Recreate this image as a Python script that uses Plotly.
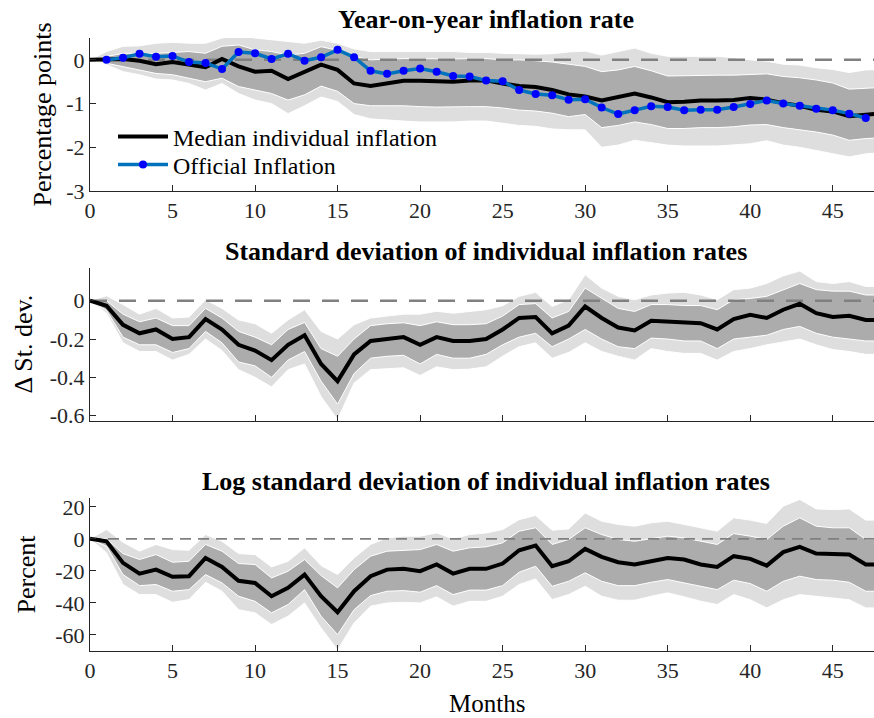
import plotly.graph_objects as go

# ---------------- data ----------------
months = list(range(49))
official_months = list(range(1, 48))

top_med = [0, 0.02, 0.02, -0.02, -0.1, -0.05, -0.1, -0.17, 0.02, -0.15, -0.27, -0.25, -0.44, -0.27, -0.11, -0.23,
           -0.54, -0.6, -0.54, -0.48, -0.48, -0.5, -0.5, -0.47, -0.47, -0.54, -0.6, -0.62, -0.69, -0.79, -0.84, -0.93,
           -0.84, -0.77, -0.86, -0.97, -0.96, -0.93, -0.93, -0.92, -0.87, -0.91, -0.99, -1.05, -1.14, -1.18, -1.29,
           -1.26, -1.22]
top_hi68 = [0, 0.08, 0.15, 0.15, 0.15, 0.17, 0.19, 0.15, 0.31, 0.34, 0.23, 0.19, 0.11, 0.15, 0.3, 0.22, 0.08, 0.0,
            0.02, 0.03, 0.03, 0.02, 0.02, 0.03, 0.03, 0.0, 0.0, -0.02, -0.05, -0.1, -0.15, -0.27, -0.23, -0.15, -0.25,
            -0.37, -0.36, -0.35, -0.35, -0.35, -0.34, -0.32, -0.38, -0.41, -0.46, -0.53, -0.67, -0.65, -0.63]
top_lo68 = [0, -0.08, -0.15, -0.23, -0.31, -0.34, -0.42, -0.5, -0.42, -0.61, -0.69, -0.77, -0.92, -0.8, -0.6, -0.72,
            -1.0, -1.05, -1.05, -1.05, -1.07, -1.08, -1.08, -1.07, -1.07, -1.1, -1.15, -1.17, -1.22, -1.3, -1.25,
            -1.55, -1.5, -1.42, -1.48, -1.57, -1.57, -1.55, -1.55, -1.53, -1.49, -1.48, -1.55, -1.6, -1.65, -1.72,
            -1.84, -1.8, -1.78]
top_hi90 = [0, 0.19, 0.31, 0.32, 0.38, 0.4, 0.38, 0.38, 0.5, 0.55, 0.5, 0.46, 0.42, 0.38, 0.45, 0.38, 0.25, 0.19,
            0.19, 0.19, 0.19, 0.19, 0.19, 0.17, 0.17, 0.15, 0.14, 0.13, 0.14, 0.18, 0.2, 0.11, 0.19, 0.27, 0.15, 0.08,
            0.08, 0.08, 0.08, 0.05, 0.0, -0.03, -0.1, -0.12, -0.18, -0.22, -0.29, -0.23, -0.22]
top_lo90 = [0, -0.11, -0.27, -0.34, -0.44, -0.46, -0.54, -0.69, -0.54, -0.77, -0.92, -1.0, -1.23, -1.05, -0.85,
            -0.95, -1.25, -1.35, -1.38, -1.4, -1.42, -1.42, -1.42, -1.4, -1.4, -1.45, -1.5, -1.52, -1.58, -1.6, -1.6,
            -2.0, -1.95, -1.84, -1.9, -1.95, -1.97, -1.97, -1.97, -1.95, -1.92, -1.85, -1.95, -2.0, -2.08, -2.15,
            -2.22, -2.15, -2.12]
official = [0.0, 0.05, 0.14, 0.07, 0.09, -0.05, -0.07, -0.21, 0.18, 0.15, 0.02, 0.14, -0.02, 0.06, 0.23, 0.06,
            -0.25, -0.32, -0.25, -0.2, -0.27, -0.37, -0.38, -0.47, -0.49, -0.69, -0.78, -0.81, -0.91, -0.9, -1.09,
            -1.24, -1.15, -1.06, -1.08, -1.15, -1.14, -1.14, -1.08, -1.01, -0.93, -1.0, -1.05, -1.12, -1.15, -1.23,
            -1.33]

mid_med = [0, -0.026, -0.126, -0.17, -0.15, -0.2, -0.19, -0.096, -0.15, -0.23, -0.26, -0.31, -0.23, -0.18, -0.33,
           -0.42, -0.28, -0.21, -0.2, -0.19, -0.23, -0.19, -0.21, -0.21, -0.2, -0.15, -0.09, -0.085, -0.17, -0.13,
           -0.03, -0.09, -0.14, -0.155, -0.105, -0.108, -0.113, -0.117, -0.15, -0.096, -0.073, -0.09, -0.047,
           -0.016, -0.065, -0.085, -0.079, -0.1, -0.1]
mid_hi68 = [0, 0.0, -0.07, -0.11, -0.09, -0.13, -0.13, -0.04, -0.09, -0.16, -0.19, -0.23, -0.15, -0.113, -0.25,
            -0.29, -0.2, -0.13, -0.12, -0.115, -0.13, -0.11, -0.125, -0.125, -0.12, -0.08, -0.02, -0.015, -0.09,
            -0.056, 0.066, 0.014, -0.04, -0.056, -0.02, -0.02, -0.025, -0.025, -0.047, 0.005, 0.012, 0.023, 0.058,
            0.09, 0.058, 0.05, 0.05, 0.03, 0.03]
mid_lo68 = [0, -0.05, -0.19, -0.23, -0.23, -0.27, -0.25, -0.16, -0.22, -0.32, -0.34, -0.4, -0.31, -0.265, -0.42,
            -0.54, -0.38, -0.3, -0.29, -0.285, -0.33, -0.28, -0.3, -0.3, -0.28, -0.23, -0.19, -0.17, -0.24, -0.2,
            -0.15, -0.2, -0.24, -0.25, -0.195, -0.2, -0.21, -0.21, -0.25, -0.2, -0.19, -0.18, -0.15, -0.134, -0.17,
            -0.19, -0.2, -0.21, -0.21]
mid_hi90 = [0, 0.026, -0.02, -0.07, -0.04, -0.09, -0.085, 0.005, -0.04, -0.1, -0.12, -0.17, -0.1, -0.047, -0.16,
            -0.2, -0.125, -0.09, -0.08, -0.07, -0.07, -0.055, -0.065, -0.055, -0.047, -0.026, 0.023, 0.044, -0.03,
            0.005, 0.136, 0.066, 0.023, 0.005, 0.03, 0.04, 0.044, 0.03, 0.005, 0.058, 0.066, 0.09, 0.13, 0.155, 0.1,
            0.09, 0.1, 0.075, 0.075]
mid_lo90 = [0, -0.065, -0.22, -0.265, -0.265, -0.31, -0.28, -0.2, -0.26, -0.36, -0.4, -0.45, -0.36, -0.33, -0.5,
            -0.62, -0.43, -0.36, -0.355, -0.35, -0.39, -0.345, -0.36, -0.357, -0.345, -0.29, -0.24, -0.22, -0.3,
            -0.27, -0.22, -0.265, -0.29, -0.31, -0.25, -0.265, -0.275, -0.275, -0.31, -0.265, -0.25, -0.23, -0.215,
            -0.2, -0.23, -0.255, -0.265, -0.28, -0.28]

bot_med = [0, -1.5, -15, -21.7, -19.2, -23.7, -23.3, -11.9, -17.5, -26.2, -27.5, -35.8, -30.6, -22.3, -35.8, -45.8,
           -32.7, -23.3, -19.2, -18.7, -20.2, -16, -21.7, -18.7, -18.7, -15.4, -7.1, -4.2, -17.1, -14, -6.25, -11.2,
           -14.6, -16, -14, -11.9, -12.9, -16, -17.5, -10.8, -12.5, -16.7, -8.3, -5, -9.2, -9.8, -9.8, -16, -16]
bot_hi68 = [0, 0, -9.2, -12.9, -9.8, -14.6, -14, -3.5, -7.7, -15.4, -16, -24.4, -20.2, -12.9, -22.9, -30.6, -19.2,
            -10.8, -7.7, -7.1, -6.7, -3.5, -7.7, -5.6, -5, -2.5, 4.8, 6.9, -3.5, -0.4, 6.9, 2.7, -0.4, -1.5, 0, 1.7,
            0.6, -1.5, -3.5, 3.3, 1.7, -0.4, 7.9, 13.1, 7.9, 6.9, 6.9, -0.4, -0.4]
bot_lo68 = [0, -4.6, -22.3, -29.2, -28.5, -32.7, -31.7, -22.3, -27.5, -35.8, -39, -46.2, -41, -31.7, -48.3, -59.8,
            -44.2, -35.4, -32.7, -32.3, -33.3, -29.2, -34.8, -32, -32, -29.2, -20.8, -17.1, -29.6, -26.5, -21.2,
            -26.5, -29.2, -29.2, -27.1, -25.4, -27.1, -29.6, -31.7, -25.8, -27.9, -32.7, -26.5, -23.3, -25.4, -25.8,
            -27.1, -32.7, -32.7]
bot_hi90 = [0, 5.8, -2.1, -7.7, -3.5, -6.7, -7.1, 2.7, -1.5, -9.2, -9.8, -17.5, -14, -5.6, -16.7, -22.3, -11.9,
            -3.5, 0.6, 1.7, 1.7, 3.7, 0, 2.7, 3.7, 5.8, 12, 14.6, 5.4, 6.2, 16.2, 11, 9, 7.9, 10, 11, 9, 6.9, 4.8,
            13.1, 11.7, 9.6, 20.4, 24.6, 18.7, 18.3, 18.7, 11.7, 11.7]
bot_lo90 = [0, -8.7, -28.5, -34.8, -34.8, -39.6, -37.9, -27.1, -32.7, -44.2, -46.2, -53.5, -48.3, -40, -55.6,
            -69.2, -52.5, -42, -40, -39.6, -40, -36.2, -42, -39, -39, -35.8, -28.5, -25, -37.9, -34.8, -29.6, -35.8,
            -38.3, -38.3, -35.8, -33.7, -36.2, -38.9, -41, -34.8, -38, -43.1, -38, -34.8, -36.2, -36.9, -38, -43.1,
            -43.1]

x_tickvals = [0, 5, 10, 15, 20, 25, 30, 35, 40, 45]
top_yticks = [0, -1, -2, -3]
top_ytext = ["0", "-1", "-2", "-3"]
mid_yticks = [0, -0.2, -0.4, -0.6]
mid_ytext = ["0", "-0.2", "-0.4", "-0.6"]
bot_yticks = [20, 0, -20, -40, -60]
bot_ytext = ["20", "0", "-20", "-40", "-60"]

titles = ["Year-on-year inflation rate",
          "Standard deviation of individual inflation rates",
          "Log standard deviation of individual inflation rates"]
ytitles = ["Percentage points", "\u0394 St. dev.", "Percent"]
xtitle = "Months"

# ---------------- style ----------------
W, H = 874, 718
ML = 90
FONT = "Liberation Serif"
LIGHT = "#dedede"
DARK = "#acacac"
AXC = "#262626"
ZERO = 0

fig = go.Figure()


def add_panel(xa, ya, med, hi90, lo90, hi68, lo68, zero_style, show_med_legend=False):
    fig.add_trace(go.Scatter(x=months + months[::-1], y=hi90 + lo90[::-1], fill="toself",
                             fillcolor=LIGHT, line=dict(color="white", width=1), mode="lines",
                             showlegend=False, hoverinfo="skip", xaxis=xa, yaxis=ya))
    fig.add_trace(go.Scatter(x=months + months[::-1], y=hi68 + lo68[::-1], fill="toself",
                             fillcolor=DARK, line=dict(color="white", width=1), mode="lines",
                             showlegend=False, hoverinfo="skip", xaxis=xa, yaxis=ya))
    fig.add_trace(go.Scatter(x=[months[0], months[-1]], y=[ZERO, ZERO], mode="lines",
                             line=zero_style, showlegend=False, hoverinfo="skip", xaxis=xa, yaxis=ya))
    fig.add_trace(go.Scatter(x=months, y=med, mode="lines", line=dict(color="black", width=4),
                             name="Median individual inflation", showlegend=show_med_legend,
                             legend="legend", xaxis=xa, yaxis=ya))


zero_thick = dict(color="#808080", width=2.5, dash="17px,12px")
zero_thin = dict(color="#808080", width=1.6, dash="11px,7px")

add_panel("x", "y", top_med, top_hi90, top_lo90, top_hi68, top_lo68, zero_thick, True)
fig.add_trace(go.Scatter(x=official_months, y=official, mode="lines+markers",
                         line=dict(color="#0072BD", width=3.5),
                         marker=dict(color="#0000FF", size=8),
                         name="Official Inflation", legend="legend2", xaxis="x", yaxis="y"))
add_panel("x2", "y2", mid_med, mid_hi90, mid_lo90, mid_hi68, mid_lo68, zero_thick)
add_panel("x3", "y3", bot_med, bot_hi90, bot_lo90, bot_hi68, bot_lo68, zero_thin)


def ydom(top_px, bot_px):
    return [1 - bot_px / H, 1 - top_px / H]


panels = [(38, 191), (268, 421), (498, 651)]

axis_common = dict(showline=True, linecolor=AXC, linewidth=1, ticks="inside", ticklen=6,
                   tickcolor=AXC, showgrid=False, zeroline=False, mirror=False, automargin=False,
                   tickfont=dict(family=FONT, size=22, color=AXC))


def px_x(p):
    return (p - ML) / (W - ML)


def px_y(p):
    return 1 - p / H


legend_common = dict(xanchor="left", yanchor="middle", bgcolor="rgba(0,0,0,0)",
                     font=dict(family=FONT, size=24, color="black"), itemwidth=50)

layout = dict(
    width=W, height=H, margin=dict(l=ML, r=0, t=0, b=0, pad=0, autoexpand=False),
    paper_bgcolor="white", plot_bgcolor="white",
    font=dict(family=FONT, color="black"),
    showlegend=True,
    legend=dict(legend_common, x=px_x(113), y=px_y(137)),
    legend2=dict(legend_common, x=px_x(113), y=px_y(165)),
)

yinfo = [([-3, 0.5], top_yticks, top_ytext), ([-0.628, 0.171], mid_yticks, mid_ytext),
         ([-70, 25.5], bot_yticks, bot_ytext)]
for i, ((tp, bp), (rng, tv, tt)) in enumerate(zip(panels, yinfo)):
    sfx = "" if i == 0 else str(i + 1)
    layout["xaxis" + sfx] = dict(axis_common, domain=[0, 1], anchor="y" + sfx, range=[0, 47.5],
                                 tickvals=x_tickvals, showticklabels=(i != 1))
    layout["yaxis" + sfx] = dict(axis_common, domain=ydom(tp, bp), anchor="x" + sfx, range=rng,
                                 tickvals=tv, ticktext=tt)

fig.update_layout(**layout)

title_y = [19, 251, 481]
for t, ty in zip(titles, title_y):
    fig.add_annotation(text="<b>" + t + "</b>", x=px_x(486), y=px_y(ty), xref="paper", yref="paper",
                       showarrow=False, xanchor="center", yanchor="middle",
                       font=dict(family=FONT, size=26, color="black"))

ytitle_x = [42, 23, 26]
for t, tx, (tp, bp) in zip(ytitles, ytitle_x, panels):
    fig.add_annotation(text=t, x=px_x(tx), y=px_y((tp + bp) / 2), xref="paper", yref="paper",
                       showarrow=False, xanchor="center", yanchor="middle", textangle=-90,
                       font=dict(family=FONT, size=26, color="black"))

fig.add_annotation(text=xtitle, x=px_x(487), y=px_y(703), xref="paper", yref="paper",
                   showarrow=False, xanchor="center", yanchor="middle",
                   font=dict(family=FONT, size=25, color="black"))

fig.write_html("out.html")
